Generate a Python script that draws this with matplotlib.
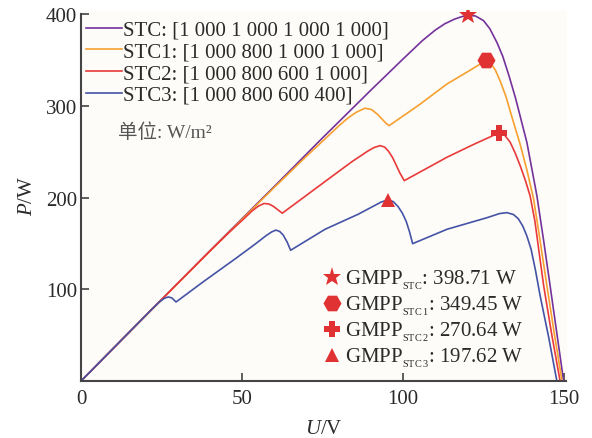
import matplotlib

matplotlib.use("Agg")
import matplotlib.pyplot as plt

# P-U curves (U in V, P in W)
u_stc = [0, 20, 40, 60, 75, 90, 100, 106, 110, 113, 116, 118.3, 120.1, 122.5, 125, 127,
         129.2, 131, 133, 135, 138.5, 141.6, 143.7, 145.7, 147.8, 149.9]
p_stc = [0, 71.2, 142, 212, 265, 317, 351, 371, 382.5, 389.5, 394.5, 397.3, 398.7, 398, 393,
         384, 369, 354, 332, 308, 260, 202, 153, 104, 52, 0]

u_stc1 = [0, 20, 40, 60, 70, 75.8, 80, 83, 85.5, 88.2, 90.2, 92, 93.5, 94.7, 95.7, 105,
          113.7, 120, 123.5, 125.9, 127.3, 128.7, 130.2, 132, 134, 136.4, 138.5, 140.6,
          142.6, 144.7, 147, 149.4]
p_stc1 = [0, 71, 141.5, 211, 245, 264, 278, 287, 293, 297.4, 296, 291, 285.5, 281, 278.4,
          301, 323.9, 337, 344.5, 349.45, 346, 339, 327, 310, 286, 258, 230, 198,
          153, 104, 52, 0]

u_stc2 = [0, 20, 40, 46, 50, 53, 55, 56.8, 58.3, 59.7, 61, 62.5, 70, 75.8, 84.1, 89, 91,
          92.9, 94.3, 95.5, 96.7, 97.8, 99, 100.4, 113.7, 122, 127, 129.9, 131.5, 133.3,
          134.8, 136.4, 138, 139.5, 141, 142.3, 143.7, 146.2, 148.8]
p_stc2 = [0, 71, 141.5, 162, 175, 185, 190.5, 193.5, 193, 190.5, 187, 182.9, 202.4, 217.5,
          239, 250.5, 254.5, 256.6, 255, 250.5, 244, 236, 227, 218.4, 244, 258, 266, 270.64,
          268.5, 260.3, 249, 234.8, 219, 201.7, 174, 140, 104, 51, 0]

u_stc3 = [0, 12, 22, 24.3, 25.8, 27.1, 28.2, 29.5, 37.9, 48.2, 54, 57.5, 59.2, 60.5, 61.7,
          62.8, 64, 65.1, 75.8, 86.1, 90.5, 93.2, 95.4, 97, 98.5, 99.8, 101, 102, 103,
          113.7, 126.1, 130, 132.3, 134.3, 135.8, 137.2, 138.5, 139.8, 141.2, 142.6, 145.3,
          147.8]
p_stc3 = [0, 42.7, 78.2, 86, 90, 91.6, 90.5, 86.1, 108, 134, 149, 158.5, 162.5, 164.5, 163,
          159, 151.5, 142.5, 165.4, 181.8, 190, 195, 197.62, 195.5, 190, 183, 174, 163, 149.7,
          165.4, 178, 182.5, 183.5, 181.5, 177, 169, 158, 143.6, 120, 93, 47, 0]

curve_labels = [
    "STC: [1 000 1 000 1 000 1 000]",
    "STC1: [1 000 800 1 000 1 000]",
    "STC2: [1 000 800 600 1 000]",
    "STC3: [1 000 800 600 400]",
]
curve_colors = ["#74329a", "#f7a030", "#e83a3a", "#4553a6"]

gmpp_u = [120.1, 125.9, 129.9, 95.4]
gmpp_p = [398.71, 349.45, 270.64, 197.62]
gmpp_markers = ["*", "H", "P", "^"]
gmpp_sizes = [14, 13, 12, 10]
gmpp_labels = [
    r"GMPP$_{_{\mathrm{STC}}}$: 398.71 W",
    r"GMPP$_{_{\mathrm{STC\,1}}}$: 349.45 W",
    r"GMPP$_{_{\mathrm{STC\,2}}}$: 270.64 W",
    r"GMPP$_{_{\mathrm{STC\,3}}}$: 197.62 W",
]

plt.rcParams["font.family"] = ["Liberation Serif", "Noto Sans CJK SC"]
plt.rcParams["mathtext.fontset"] = "custom"
plt.rcParams["mathtext.rm"] = "Liberation Serif"
plt.rcParams["mathtext.it"] = "Liberation Serif:italic"
text_color = "#2a2a2a"

fig = plt.figure(figsize=(5.92, 4.39), dpi=100)
ax = fig.add_axes([0.137, 0.13, 0.821, 0.846])
ax.set_facecolor("#fdfcf8")

curves = [(u_stc, p_stc), (u_stc1, p_stc1), (u_stc2, p_stc2), (u_stc3, p_stc3)]
lines = []
for (u, p), lab, col in zip(curves, curve_labels, curve_colors):
    ln, = ax.plot(u, p, color=col, lw=1.2, label=lab, solid_joinstyle="round")
    lines.append(ln)

marks = []
for u, p, m, s, lab in zip(gmpp_u, gmpp_p, gmpp_markers, gmpp_sizes, gmpp_labels):
    mk, = ax.plot([u], [p], ls="none", marker=m, ms=s, color="#e03232",
                  markeredgewidth=0, label=lab, zorder=5)
    marks.append(mk)

ax.set_xlim(0, 151)
ax.set_ylim(0, 405)
ax.set_xticks([0, 50, 100, 150])
ax.set_yticks([100, 200, 300, 400])
for side in ["top", "right"]:
    ax.spines[side].set_visible(False)
for side in ["left", "bottom"]:
    ax.spines[side].set_color("#444444")
    ax.spines[side].set_linewidth(1.5)
ax.spines["left"].set_bounds(0, 400)
ax.spines["bottom"].set_bounds(0, 150.5)
ax.tick_params(direction="in", length=6, width=1.2, color="#444444",
               labelsize=15, labelcolor=text_color)
ax.tick_params(axis="x", pad=6)
ax.tick_params(axis="y", pad=3)

ax.set_xlabel(r"$U$/V", fontsize=15, color=text_color, labelpad=8)
ax.set_ylabel(r"$P$/W", fontsize=15, color=text_color, labelpad=6)

leg1 = ax.legend(handles=lines, loc="upper left", bbox_to_anchor=(0.01, 0.971),
                 frameon=False, fontsize=15, handlelength=1.75, handletextpad=0.05,
                 labelspacing=0.1, borderpad=0, borderaxespad=0, labelcolor=text_color)
ax.add_artist(leg1)

ax.legend(handles=marks, loc="upper left", bbox_to_anchor=(0.494, 0.303),
          frameon=False, fontsize=15, handlelength=1.0, handletextpad=0.15,
          labelspacing=0.13, borderpad=0, borderaxespad=0, labelcolor=text_color)

ax.text(0.076, 0.67, "单位: W/m²", transform=ax.transAxes, fontsize=14,
        color="#555555", va="center", ha="left")

fig.savefig("out.png", dpi=100)
